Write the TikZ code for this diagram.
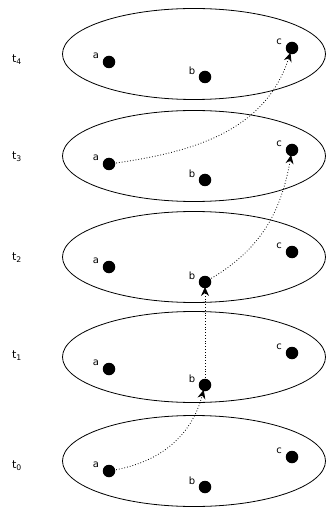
\documentclass[tikz,border=0pt]{standalone}
\usepackage{fontspec}
\setmainfont{DejaVu Sans}
\usetikzlibrary{arrows.meta,shapes.geometric}
\pgfdeclarelayer{bg}
\pgfsetlayers{bg,main}
\begin{document}
\begin{tikzpicture}[x=1pt,y=-1pt,
  plane/.style={draw, line width=0.8pt, ellipse, minimum width=263pt, minimum height=91pt, inner sep=0pt},
  dot/.style={circle, fill=black, inner sep=0pt, minimum size=12.5pt},
  lbl/.style={font=\fontsize{10}{10}\selectfont, inner sep=0pt},
  tlbl/.style={font=\fontsize{11}{11}\selectfont, inner sep=0pt},
  move/.style={dotted, line width=0.8pt, -{Stealth[length=9pt,width=8pt,inset=3pt]}, shorten >=-1.5pt, shorten <=-2pt}]
\useasboundingbox (0,0) rectangle (328,510);
\foreach \i/\ya/\yb/\yc/\ye/\yt in {4/62/77/48/54/60, 3/164/180/150/156/157, 2/267/282/252/257/258, 1/369/385/353/357/356, 0/471/487/457/461/466} {
  \node[plane] (e\i) at (194,\ye) {};
  \node[tlbl] (t\i) at (17,\yt) {t\textsubscript{\i}};
  \node[dot] (a\i) at (109,\ya) {};
  \node[dot] (b\i) at (205,\yb) {};
  \node[dot] (c\i) at (292,\yc) {};
  \node[lbl] (la\i) at ([shift={(-13,-6)}]a\i.center) {a};
  \node[lbl] (lb\i) at ([shift={(-13,-6)}]b\i.center) {b};
  \node[lbl] (lc\i) at ([shift={(-13,-6)}]c\i.center) {c};
}
\begin{pgfonlayer}{bg}
  \draw[move] (a0) to[out=10,in=-105] (b1);
  \draw[move] (b1) -- (b2);
  \draw[move] (b2) to[out=30,in=-100] (c3);
  \draw[move] (a3) to[out=8,in=-108] (c4);
\end{pgfonlayer}
\end{tikzpicture}
\end{document}
